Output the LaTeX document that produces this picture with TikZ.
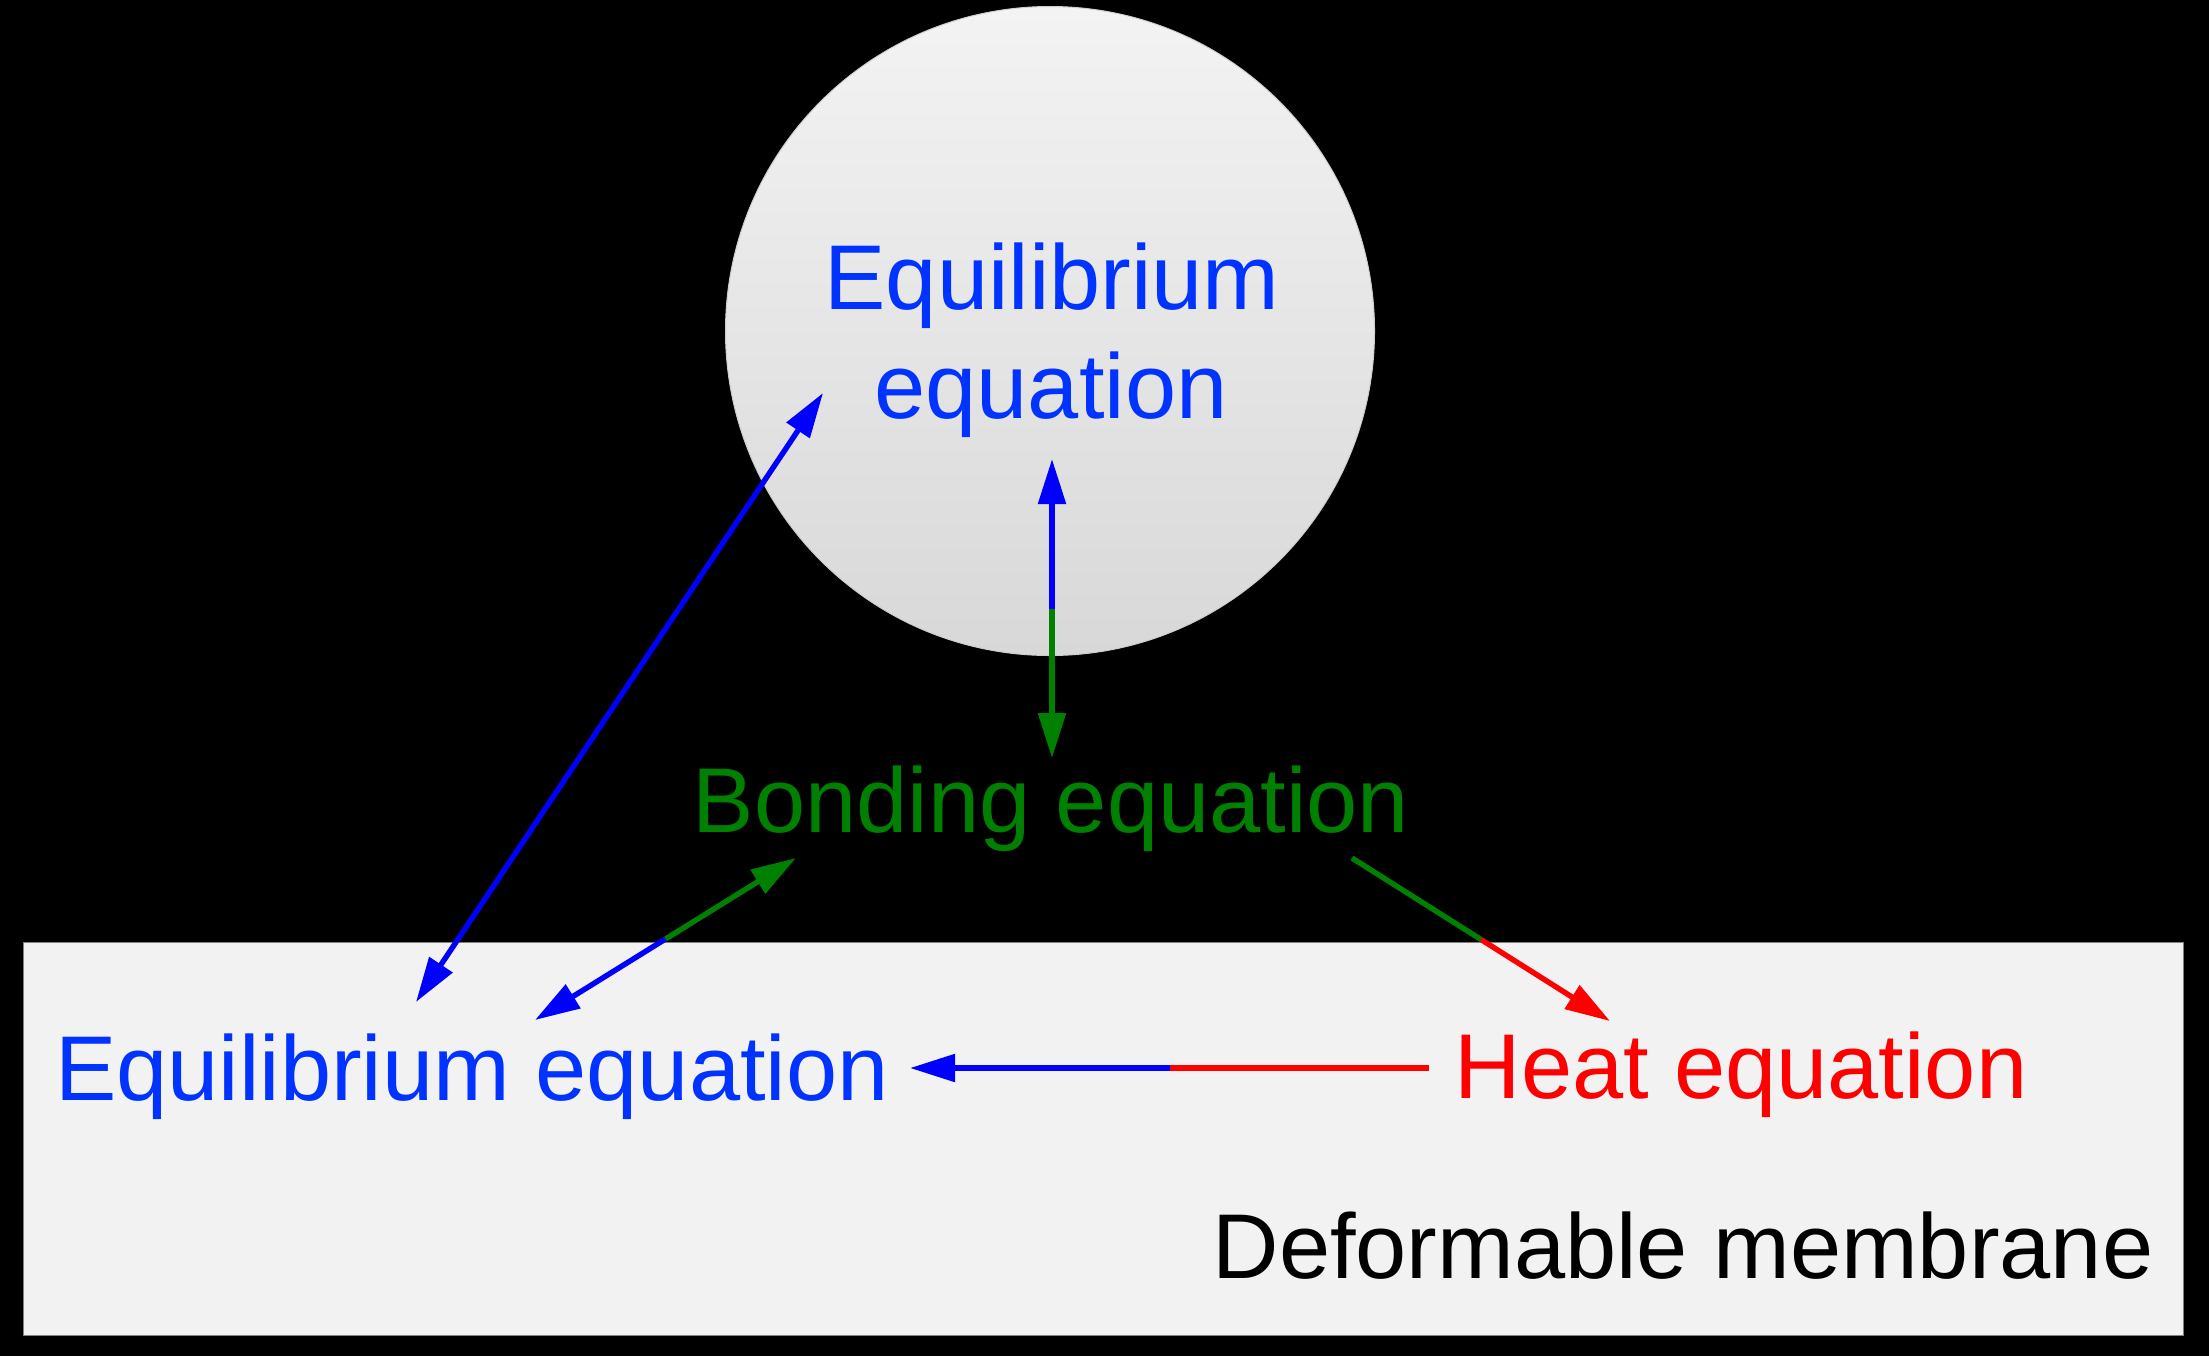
\documentclass[tikz,border=0pt]{standalone}
\usepackage{fontspec}
\setmainfont{Liberation Sans}
\usetikzlibrary{arrows.meta,calc}
\definecolor{txtblue}{RGB}{0,51,255}
\definecolor{lnblue}{RGB}{0,0,255}
\definecolor{lngreen}{RGB}{0,128,0}
\definecolor{lnred}{RGB}{255,0,0}
\definecolor{boxfill}{RGB}{242,242,242}
\definecolor{ctop}{RGB}{243,243,243}
\definecolor{cbot}{RGB}{216,216,216}
\definecolor{cedge}{RGB}{205,205,205}
\begin{document}
\begin{tikzpicture}[x=0.5pt,y=-0.5pt,
  >={Triangle[length=22.5pt,width=13.5pt]},
  lbl/.style={font=\fontsize{46pt}{52pt}\selectfont, inner sep=0pt, anchor=base},
  conn/.style={line width=2.7pt}]
\fill[black] (0,0) rectangle (2209,1356);
\useasboundingbox (0,0) rectangle (2209,1356);
% bodies
\node[rectangle, draw={rgb,255:red,128;green,128;blue,128}, fill=boxfill, line width=0.6pt,
  minimum width=1080pt, minimum height=196.5pt, anchor=north west, inner sep=0pt]
  (membrane) at (23,942) {};
\node[circle, minimum size=324.5pt, inner sep=0pt, top color=ctop, bottom color=cbot,
  draw=cedge, line width=0.5pt]
  (sphere) at (1050,331) {};
% labels
\node[lbl, txtblue] (eqTopA) at (1052,309) {Equilibrium};
\node[lbl, txtblue] (eqTopB) at (1051,418) {equation};
\node[lbl, lngreen] (bond) at (1051,832) {Bonding equation};
\node[lbl, txtblue] (eqLow) at (472,1100) {Equilibrium equation};
\node[lbl, lnred] (heat) at (1741,1098) {Heat equation};
\node[lbl, black] (memb) at (1683,1278) {Deformable membrane};
% connector ends
\coordinate (a1) at (823,393);
\coordinate (a2) at (416,1002);
\coordinate (v1) at (1052,459);
\coordinate (v2) at (1052,758);
\coordinate (b1) at (796,858);
\coordinate (b2) at (535,1020);
\coordinate (c1) at (1352,858);
\coordinate (c2) at (1610,1021);
\coordinate (h1) at (1429,1068);
\coordinate (h2) at (910,1068);
% connectors
\draw[conn, lnblue, <->] (a1) -- (a2);
\draw[conn, lnblue, <-] (v1) -- ($(v1)!0.5!(v2)$);
\draw[conn, lngreen, ->] ($(v1)!0.5!(v2)$) -- (v2);
\draw[conn, lngreen, <-] (b1) -- ($(b1)!0.5!(b2)$);
\draw[conn, lnblue, ->] ($(b1)!0.5!(b2)$) -- (b2);
\draw[conn, lngreen] (c1) -- ($(c1)!0.5!(c2)$);
\draw[conn, lnred, ->] ($(c1)!0.5!(c2)$) -- (c2);
\draw[conn, lnred] (h1) -- ($(h1)!0.5!(h2)$);
\draw[conn, lnblue, ->] ($(h1)!0.5!(h2)$) -- (h2);
\end{tikzpicture}
\end{document}
